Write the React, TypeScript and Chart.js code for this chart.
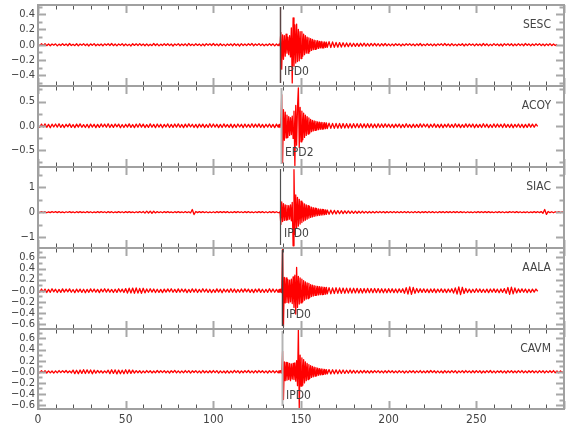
import React, { useEffect, useRef } from "react";
import { Chart, registerables } from "chart.js";

Chart.register(...registerables);

// ---------- data (values in thousandths of the panel's amplitude unit) ----------
const X_MIN = 0;
const X_MAX = 300;
const X_TICK_LABELS = [0, 50, 100, 150, 200, 250];

// sampling of the three stored segments of every trace (seconds)
const PRE_START = 0;
const PRE_STEP = 1;
const BURST_START = 137.5;
const BURST_STEP = 0.5;
const POST_START = 166;
const POST_STEP = 1;

const STATIONS = ["SESC", "ACOY", "SIAC", "AALA", "CAVM"];
const PHASES = ["IPD0", "EPD2", "IPD0", "IPD0", "IPD0"];
const PICK_TIMES = [138.2, 138.8, 138.0, 139.2, 139.2];

const Y_MIN = [-0.54, -0.85, -1.45, -0.69, -0.67];
const Y_MAX = [0.52, 0.82, 1.83, 0.77, 0.77];

const Y_TICKS_1 = [0.4, 0.2, 0, -0.2, -0.4];
const Y_LABELS_1 = ["0.4", "0.2", "0.0", "\u22120.2", "\u22120.4"];
const Y_MINOR_1 = [0.5, 0.3, 0.1, -0.1, -0.3, -0.5];
const Y_TICKS_2 = [0.5, 0, -0.5];
const Y_LABELS_2 = ["0.5", "0.0", "\u22120.5"];
const Y_MINOR_2 = [0.75, 0.25, -0.25, -0.75];
const Y_TICKS_3 = [1, 0, -1];
const Y_LABELS_3 = ["1", "0", "\u22121"];
const Y_MINOR_3 = [1.5, 0.5, -0.5];
const Y_TICKS_45 = [0.6, 0.4, 0.2, 0, -0.2, -0.4, -0.6];
const Y_LABELS_45 = ["0.6", "0.4", "0.2", "\u22120.0", "\u22120.2", "\u22120.4", "\u22120.6"];
const Y_MINOR_45 = [0.7, 0.5, 0.3, 0.1, -0.1, -0.3, -0.5];

const SESC_PRE = [
  4, -11, 13, -8, 15, -12, 9, -14, 10, -7,
  12, -15, 8, -10, 14, -9, 11, -13, 16, -10,
  7, -12, 13, -15, 9, -8, 14, -11, 10, -16,
  12, -9, 15, -13, 8, -11, 10, -14, 12, -7,
  13, -10, 16, -12, 9, -15, 11, -8, 14, -13,
  10, -12, 8, -16, 13, -9, 12, -11, 15, -10,
  9, -14, 11, -13, 7, -12, 16, -10, 12, -15,
  8, -11, 14, -9, 13, -12, 10, -16, 11, -8,
  15, -13, 9, -10, 12, -14, 17, -11, 8, -12,
  13, -9, 11, -15, 10, -13, 14, -8, 12, -11,
  16, -10, 9, -14, 13, -12, 8, -15, 11, -9,
  12, -13, 15, -10, 9, -16, 14, -11, 10, -12,
  13, -8, 17, -14, 11, -9, 15, -12, 10, -13,
  8, -11, 14, -10, 12, -15, 9, -12,
];
const SESC_BURST = [
  10, -14, 160, -320, 130, -190, 120, -150, 140, -110,
  100, -130, 120, -160, 220, -500, 350, -280, 260, -240,
  270, -220, 200, -210, 170, -180, 170, -150, 140, -130,
  120, -110, 100, -110, 90, -85, 80, -75, 70, -65,
  60, -62, 55, -50, 52, -48, 45, -42, 44, -40,
  38, -41, 36, -35, 33, -34,
];
const SESC_POST = [
  40, -36, 38, -33, 30,
  -32, 28, -30, 26, -27, 24, -25, 22, -23, 20,
  -21, 18, -22, 19, -17, 20, -18, 16, -19, 17,
  -15, 18, -16, 14, -17, 15, -13, 16, -14, 12,
  -15, 11, -13, 14, -9, 12, -16, 10, -12, 13,
  -8, 15, -11, 9, -14, 12, -10, 16, -13, 8,
  -12, 14, -9, 11, -15, 10, -13, 12, -8, 14,
  -11, 16, -10, 9, -13, 15, -12, 8, -14, 11,
  -9, 13, -16, 10, -12, 14, -8, 11, -15, 12,
  -10, 9, -13, 16, -11, 12, -14, 8, -12, 15,
  -9, 11, -13, 10, -16, 14, -8, 12, -11, 13,
  -15, 9, -12, 14, -10, 11, -13, 16, -9, 12,
  -14, 10, -11, 13, -8, 15, -12, 9, -13, 11,
  -10, 14, -12, 9, -11, 6,
];

const ACOY_PRE = [
  10, -30, 35, -26, 38, -32, 28, -40, 33, -25,
  36, -29, 41, -34, 27, -37, 31, -24, 39, -33,
  26, -38, 34, -28, 40, -31, 25, -36, 30, -42,
  35, -27, 32, -39, 29, -34, 38, -26, 33, -30,
  41, -35, 28, -32, 37, -24, 34, -40, 27, -36,
  31, -29, 39, -33, 26, -38, 35, -30, 42, -28,
  33, -37, 25, -34, 40, -31, 29, -39, 36, -27,
  32, -41, 30, -26, 38, -35, 28, -33, 37, -29,
  40, -32, 27, -38, 34, -30, 39, -25, 31, -36,
  29, -40, 35, -28, 33, -37, 26, -34, 41, -31,
  36, -27, 32, -39, 30, -35, 38, -29, 27, -33,
  34, -41, 29, -36, 37, -26, 31, -38, 35, -30,
  28, -34, 40, -32, 33, -27, 39, -35, 30, -37,
  32, -29, 36, -33, 28, -38, 34, -31,
];
const ACOY_BURST = [
  30, -35, 40, 640, -760, 330, -300, 280, -250, 220,
  -240, 190, -200, 170, -180, 200, -260, 300, -820, 420,
  -400, 380, 780, -450, 380, -330, 300, -290, 260, -240,
  220, -200, 190, -170, 160, -150, 130, -120, 110, -105,
  100, -95, 90, -85, 80, -78, 75, -72, 70, -68,
  66, -64, 62, -60, 58, -56,
];
const ACOY_POST = [
  55, -52, 50, -54, 48, -50, 46, -49, 47, -45,
  44, -46, 42, -45, 43, -41, 44, -40, 42, -43,
  39, -41, 43, -38, 40, -42, 37, -40, 41, -36,
  38, -33, 40, -29, 35, -37, 31, -39, 34, -28,
  36, -40, 30, -35, 41, -32, 27, -38, 33, -36,
  29, -34, 39, -31, 37, -26, 35, -41, 32, -30,
  40, -35, 28, -37, 33, -39, 31, -27, 38, -34,
  30, -36, 42, -29, 34, -38, 26, -33, 39, -31,
  35, -28, 37, -40, 32, -34, 29, -36, 41, -30,
  33, -39, 27, -35, 38, -32, 36, -29, 31, -37,
  40, -33, 28, -36, 34, -41, 30, -27, 37, -35,
  32, -38, 29, -34, 39, -31, 35, -30, 33, -12,
];

const SIAC_PRE = [
  5, -18, 22, -15, 20, -24, 16, -19, 23, -14,
  21, -17, 25, -20, 15, -22, 18, -13, 24, -19,
  16, -23, 20, -15, 22, -18, 14, -21, 25, -17,
  19, -24, 15, -20, 23, -16, 21, -14, 18, -22,
  24, -17, 20, -25, 16, -19, 22, -15, 18, -23,
  21, -16, 25, -19, 14, -22, 20, -18, 26, -21,
  30, -38, 42, -35, 40, -44, 36, -30, 24, -20,
  18, -23, 21, -16, 24, -19, 15, -22, 20, -17,
  23, -18, 16, -21, 25, -20, 17, -30, 110, -95,
  28, -19, 22, -16, 24, -20, 18, -23, 15, -21,
  19, -24, 22, -17, 20, -15, 25, -18, 21, -22,
  16, -20, 23, -19, 24, -14, 18, -21, 22, -17,
  25, -20, 15, -23, 19, -18, 24, -16, 21, -22,
  17, -25, 20, -15, 23, -19, 18, -21,
];
const SIAC_BURST = [
  -20, 30, -500, 420, -380, 350, -330, 300, -320, 280,
  -300, 260, -280, 300, -350, 400, -1360, 1720, -900, 700,
  -650, 600, -560, 520, -480, 450, -420, 380, -360, 340,
  -320, 300, -280, 260, -240, 220, -210, 200, -190, 180,
  -170, 160, -150, 140, -135, 130, -125, 120, -115, 110,
  -105, 100, -95, 92, -90, 88,
];
const SIAC_POST = [
  -85, 80, -76, 72, -70, 66, -62, 60, -57, 55,
  -52, 50, -48, 46, -45, 43, -42, 40, -38, 37,
  -36, 34, -33, 32, -30, 31, -29, 28, -27, 29,
  -26, 25, -27, 24, -23, 26, -22, 25, -24, 21,
  -25, 22, -20, 26, -23, 21, -24, 19, -22, 25,
  -20, 23, -26, 21, -19, 24, -22, 27, -21, 23,
  -25, 20, -23, 26, -19, 22, -24, 21, -18, 23,
  -21, 25, -17, 22, -20, 24, -16, 19, -23, 18,
  -20, 15, -22, 19, -17, 23, -15, 20, -18, 21,
  -16, 22, -19, 14, -21, 18, -15, 23, -20, 17,
  -22, 16, -19, 21, -14, 20, -18, 23, -17, 19,
  -21, 15, -20, 18, -24, 16, -19, 22, -15, 20,
  -18, 25, -45, 110, -90, 30, -20, 17, -22, 19,
  -16, 21, -18, 15, -20,
];

const AALA_PRE = [
  8, -26, 31, -22, 28, -33, 24, -29, 35, -21,
  27, -32, 23, -30, 34, -25, 29, -20, 33, -28,
  22, -35, 30, -24, 28, -31, 26, -36, 25, -29,
  33, -23, 30, -27, 24, -34, 29, -22, 36, -26,
  31, -28, 23, -33, 27, -30, 35, -24, 29, -32,
  38, -42, 46, -40, 48, -45, 50, -43, 41, -47,
  44, -39, 32, -28, 35, -25, 30, -33, 27, -31,
  24, -34, 29, -26, 32, -22, 36, -28, 25, -30,
  33, -27, 31, -24, 28, -35, 23, -29, 34, -26,
  30, -32, 25, -28, 36, -23, 29, -31, 27, -34,
  22, -30, 33, -25, 28, -36, 31, -24, 26, -29,
  35, -27, 30, -33, 23, -28, 32, -26, 34, -22,
  29, -31, 25, -35, 28, -24, 33, -30, 27, -32,
  24, -29, 36, -26, 31, -28, 25, -30,
];
const AALA_BURST = [
  25, -30, 28, -35, 760, -650, 240, -220, 230, -210,
  200, -220, 190, -200, 210, -230, 250, -300, 280, -420,
  420, -300, 260, -240, 230, -220, 210, -200, 180, -170,
  160, -150, 140, -140, 130, -120, 110, -105, 100, -95,
  90, -85, 82, -80, 78, -75, 72, -70, 70, -68,
  66, -65, 62, -60, 60, -58,
];
const AALA_POST = [
  56, -54, 52, -50, 53, -48, 50, -46, 48, -45,
  47, -43, 45, -42, 44, -40, 43, -41, 39, -42,
  40, -38, 41, -37, 39, -36, 40, -35, 38, -37,
  35, -38, 34, -36, 37, -33, 35, -34, 32, -36,
  34, -31, 36, -45, 55, -62, 70, -66, 58, -48,
  40, -33, 35, -30, 34, -31, 28, -35, 32, -29,
  33, -36, 30, -27, 34, -32, 29, -35, 31, -28,
  36, -42, 50, -60, 68, -72, 62, -50, 40, -33,
  30, -34, 27, -31, 35, -28, 32, -30, 26, -33,
  29, -35, 31, -27, 34, -30, 28, -36, 32, -29,
  38, -48, 58, -66, 64, -58, 50, -40, 33, -30,
  34, -28, 31, -35, 27, -32, 29, -26, 30, -10,
];

const CAVM_PRE = [
  6, -18, 21, -15, 19, -22, 16, -20, 14, -23,
  17, -19, 22, -16, 20, -14, 23, -18, 15, -21,
  30, -34, 28, -36, 32, -29, 38, -31, 35, -27,
  33, -37, 30, -26, 24, -20, 18, -22, 16, -19,
  28, -33, 36, -30, 34, -38, 31, -35, 29, -36,
  37, -32, 34, -28, 30, -24, 21, -17, 19, -23,
  15, -20, 22, -16, 18, -21, 14, -19, 23, -17,
  20, -15, 21, -18, 16, -22, 19, -14, 24, -20,
  17, -21, 15, -19, 22, -16, 20, -23, 18, -14,
  21, -19, 16, -22, 23, -18, 15, -20, 19, -17,
  22, -16, 20, -24, 17, -19, 14, -21, 18, -23,
  16, -20, 24, -15, 19, -22, 17, -18, 21, -16,
  23, -19, 15, -21, 20, -17, 22, -14, 18, -20,
  16, -22, 19, -15, 21, -18, 17, -20,
];
const CAVM_BURST = [
  18, -20, 22, -25, 370, -500, 180, -160, 170, -150,
  160, -140, 150, -160, 140, -130, 150, -140, 160, -170,
  200, -250, 760, -650, 300, -260, 250, -240, 220, -200,
  180, -160, 150, -140, 130, -120, 110, -100, 95, -90,
  85, -80, 75, -70, 66, -62, 58, -55, 52, -50,
  48, -46, 44, -42, 40, -38,
];
const CAVM_POST = [
  40, -38, 36, -37, 34, -35, 33, -31, 32, -30,
  28, -27, 29, -25, 26, -24, 23, -25, 22, -21,
  23, -20, 18, -22, 19, -17, 21, -16, 20, -18,
  15, -21, 19, -17, 22, -16, 18, -20, 14, -19,
  21, -15, 17, -22, 16, -19, 20, -14, 18, -21,
  17, -16, 22, -18, 15, -20, 19, -17, 23, -15,
  18, -21, 16, -19, 14, -22, 20, -17, 15, -18,
  21, -16, 19, -23, 17, -15, 20, -18, 22, -14,
  16, -20, 18, -17, 21, -15, 19, -22, 14, -18,
  20, -16, 23, -19, 15, -21, 17, -14, 18, -20,
  16, -22, 19, -15, 21, -18, 14, -17, 20, -16,
  22, -19, 15, -20, 18, -14, 21, -17, 16, -19,
  20, -15, 18, -21, 17, -16, 19, -14, 22, -18,
  15, -20, 17, -16, 12,
];

const TRACES = [
  [SESC_PRE, SESC_BURST, SESC_POST],
  [ACOY_PRE, ACOY_BURST, ACOY_POST],
  [SIAC_PRE, SIAC_BURST, SIAC_POST],
  [AALA_PRE, AALA_BURST, AALA_POST],
  [CAVM_PRE, CAVM_BURST, CAVM_POST],
];
const Y_TICKS = [Y_TICKS_1, Y_TICKS_2, Y_TICKS_3, Y_TICKS_45, Y_TICKS_45];
const Y_LABELS = [Y_LABELS_1, Y_LABELS_2, Y_LABELS_3, Y_LABELS_45, Y_LABELS_45];
const Y_MINOR = [Y_MINOR_1, Y_MINOR_2, Y_MINOR_3, Y_MINOR_45, Y_MINOR_45];

// ---------- layout / style ----------
const W = 580;
const H = 440;
const PANEL_TOPS = [5, 86, 167, 248, 329];
const PANEL_BOTTOMS = [86, 167, 248, 329, 409];
const AXIS_W = 38;
const RIGHT_PAD = 16;
const PADV = 12;
const FONT = "'Liberation Sans Narrow', 'DejaVu Sans Condensed', 'Arial Narrow', sans-serif";
const PICK_COLORS = ["#5a4444", "#b4b4b4", "#505050", "#4a3a3a", "#b4b4b4"];
const PICK_WIDTHS = [1.5, 2, 1.2, 1.5, 2];
const X_MINOR_STEP = 10;
const X_MAJOR_STEP = 50;

function buildSeries(pre: number[], burst: number[], post: number[]) {
  const pts: { x: number; y: number }[] = [];
  pre.forEach((v, i) => {
    const t = PRE_START + i * PRE_STEP;
    if (t < BURST_START) pts.push({ x: t, y: v / 1000 });
  });
  burst.forEach((v, i) => pts.push({ x: BURST_START + i * BURST_STEP, y: v / 1000 }));
  post.forEach((v, i) => pts.push({ x: POST_START + i * POST_STEP, y: v / 1000 }));
  return pts;
}

function overlayPlugin(idx: number) {
  return {
    id: "overlay" + idx,
    afterDatasetsDraw(chart: any) {
      const { ctx, chartArea: a, scales } = chart;
      const xs = scales.x;
      const ys = scales.y;
      ctx.save();
      // phase pick line
      const px = Math.round(xs.getPixelForValue(PICK_TIMES[idx])) + 0.5;
      ctx.strokeStyle = PICK_COLORS[idx];
      ctx.lineWidth = PICK_WIDTHS[idx];
      ctx.beginPath();
      ctx.moveTo(px, a.top + 2);
      ctx.lineTo(px, a.bottom - 3);
      ctx.stroke();
      // texts
      ctx.fillStyle = "#444";
      ctx.font = "12px " + FONT;
      ctx.textBaseline = "middle";
      ctx.textAlign = "left";
      ctx.fillText(PHASES[idx], px + 3.5, a.top + 67);
      ctx.textAlign = "right";
      ctx.fillText(STATIONS[idx], a.right - 13, a.top + 20);
      // x ticks top & bottom (inward)
      for (let t = X_MIN; t <= X_MAX; t += X_MINOR_STEP) {
        const x = Math.round(xs.getPixelForValue(t)) + 0.5;
        const major = t % X_MAJOR_STEP === 0;
        ctx.strokeStyle = major ? "#a8a8a8" : "#555";
        ctx.lineWidth = major ? 2 : 1;
        const len = major ? 8 : 4.5;
        ctx.beginPath();
        ctx.moveTo(x, a.top);
        ctx.lineTo(x, a.top + len);
        ctx.moveTo(x, a.bottom);
        ctx.lineTo(x, a.bottom - len);
        ctx.stroke();
      }
      // y ticks left & right (inward)
      const drawY = (vals: number[], len: number) => {
        vals.forEach((v) => {
          const y = Math.round(ys.getPixelForValue(v)) + 0.5;
          ctx.beginPath();
          ctx.moveTo(a.left, y);
          ctx.lineTo(a.left + len, y);
          ctx.moveTo(a.right, y);
          ctx.lineTo(a.right - len, y);
          ctx.stroke();
        });
      };
      ctx.strokeStyle = "#a8a8a8";
      ctx.lineWidth = 2;
      drawY(Y_TICKS[idx], 8);
      drawY(Y_MINOR[idx], 4.5);
      // frame
      ctx.strokeStyle = "#a0a0a0";
      ctx.lineWidth = 2;
      ctx.strokeRect(a.left, a.top, a.right - a.left, a.bottom - a.top);
      ctx.restore();
    },
  };
}

function Panel({ idx }: { idx: number }) {
  const ref = useRef<HTMLCanvasElement | null>(null);
  const isLast = idx === 4;
  const top = PANEL_TOPS[idx] - PADV;
  const height = isLast ? H - top : PANEL_BOTTOMS[idx] - PANEL_TOPS[idx] + 2 * PADV;
  useEffect(() => {
    if (!ref.current) return;
    const [pre, burst, post] = TRACES[idx];
    const labels = Y_LABELS[idx];
    const ticks = Y_TICKS[idx];
    const chart = new Chart(ref.current, {
      type: "line",
      data: {
        datasets: [
          {
            data: buildSeries(pre, burst, post),
            borderColor: "#ff0000",
            borderWidth: 1.3,
            borderJoinStyle: "round",
            pointRadius: 0,
            tension: 0,
            fill: false,
          },
        ],
      },
      options: {
        animation: false,
        responsive: false,
        events: [],
        plugins: { legend: { display: false }, tooltip: { enabled: false } },
        layout: {
          padding: { top: PADV, bottom: isLast ? 0 : PADV, left: 0, right: RIGHT_PAD },
        },
        scales: {
          x: {
            type: "linear",
            min: X_MIN,
            max: X_MAX,
            display: isLast,
            grid: { display: false, drawTicks: false },
            border: { display: false },
            afterBuildTicks: (ax: any) => {
              ax.ticks = X_TICK_LABELS.map((v) => ({ value: v }));
            },
            afterFit: (ax: any) => {
              ax.height = isLast ? H - PANEL_BOTTOMS[4] : 0;
            },
            ticks: {
              autoSkip: false,
              maxRotation: 0,
              padding: 4,
              color: "#444",
              font: { family: FONT, size: 12 },
              callback: (v: any) => String(v),
            },
          },
          y: {
            type: "linear",
            min: Y_MIN[idx],
            max: Y_MAX[idx],
            grid: { display: false, drawTicks: false },
            border: { display: false },
            afterBuildTicks: (ax: any) => {
              ax.ticks = ticks.map((v) => ({ value: v }));
            },
            afterFit: (ax: any) => {
              ax.width = AXIS_W;
            },
            ticks: {
              autoSkip: false,
              padding: 3,
              color: "#444",
              font: { family: FONT, size: 11 },
              callback: (v: any) => {
                const k = ticks.findIndex((t) => Math.abs(t - Number(v)) < 1e-6);
                return k >= 0 ? labels[k] : "";
              },
            },
          },
        },
      } as any,
      plugins: [overlayPlugin(idx)],
    });
    return () => chart.destroy();
  }, [idx]);
  return (
    <canvas
      ref={ref}
      width={W}
      height={height}
      style={{ position: "absolute", left: 0, top, width: W, height }}
    />
  );
}

export default function App() {
  return (
    <div style={{ position: "absolute", left: 0, top: 0, width: W, height: H, background: "#fff" }}>
      {[0, 1, 2, 3, 4].map((i) => (
        <Panel key={i} idx={i} />
      ))}
    </div>
  );
}
